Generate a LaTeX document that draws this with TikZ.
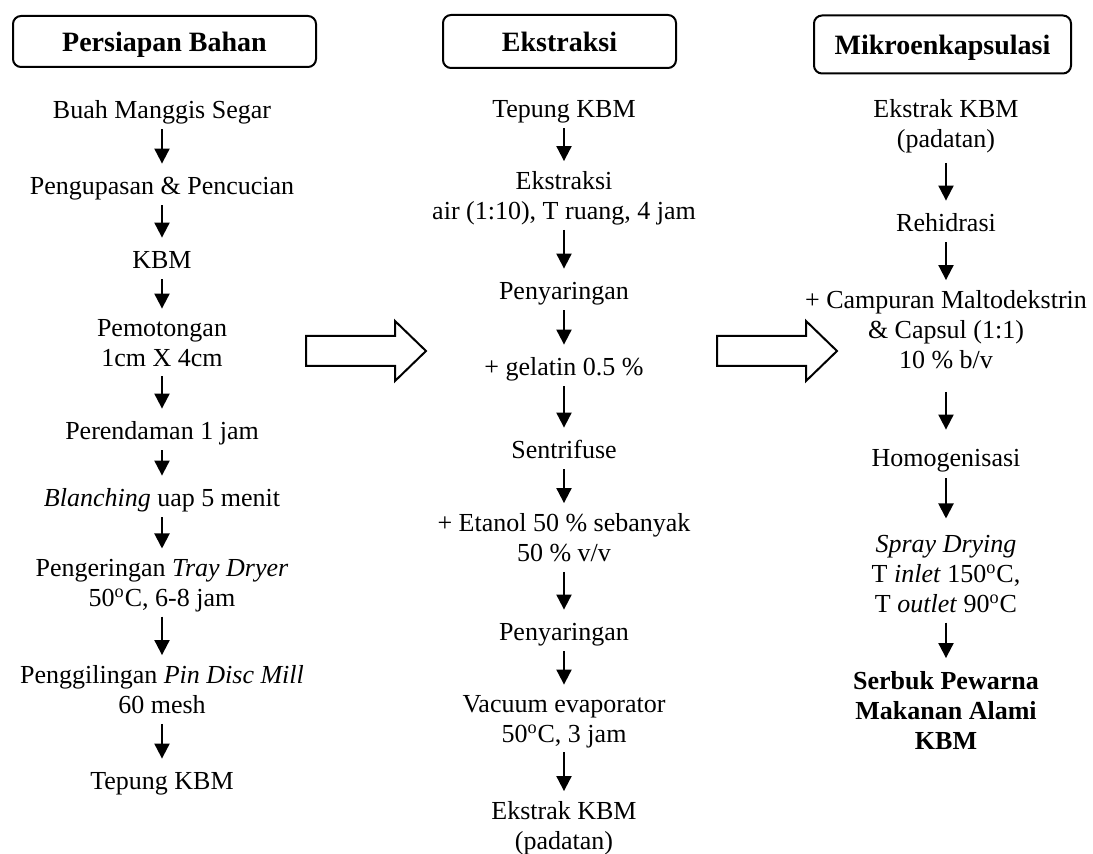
\documentclass[tikz,border=0pt]{standalone}
\usepackage{fontspec}
\setmainfont{Liberation Serif}
\usetikzlibrary{arrows.meta}

\begin{document}
\begin{tikzpicture}[x=0.5pt, y=-0.5pt,
  judul/.style={rectangle, rounded corners=4pt, draw, line width=1pt,
    text height=10.5pt, text depth=0pt, font=\fontsize{14}{16}\selectfont\bfseries},
  lk/.style={align=center, inner sep=0pt, font=\fontsize{13}{15}\selectfont,
    execute at begin node=\strut, execute at end node=\strut},
  tr/.style={-{Triangle[width=7.5pt,length=7.5pt]}, line width=1pt,
    shorten >=5pt, shorten <=0.5pt},
  blok/.style={draw, line width=1pt, fill=white}
]
  \useasboundingbox (0,0) rectangle (1093,854);

  % judul kolom
  \node[judul, minimum width=151.5pt, minimum height=25.5pt] (hbahan) at (164.5,41.5) {Persiapan Bahan};
  \node[judul, minimum width=116.5pt, minimum height=26.5pt] (hekstr) at (559.5,41.5) {Ekstraksi};
  \node[judul, minimum width=128.5pt, minimum height=29pt]   (hmikro) at (942.5,44.5) {Mikroenkapsulasi};

  % persiapan bahan
  \node[lk] (buah)   at (162,113) {Buah Manggis Segar};
  \node[lk] (kupas)  at (162,189) {Pengupasan \& Pencucian};
  \node[lk] (kbm)    at (162,263) {KBM};
  \node[lk] (potong) at (162,347) {Pemotongan\\1cm X 4cm};
  \node[lk] (rendam) at (162,434) {Perendaman 1 jam};
  \node[lk] (blanch) at (162,501) {\textit{Blanching} uap 5 menit};
  \node[lk] (kering) at (162,587) {Pengeringan \textit{Tray Dryer}\\50\textsuperscript{o}C, 6-8 jam};
  \node[lk] (giling) at (162,694) {Penggilingan \textit{Pin Disc Mill}\\60 mesh};
  \node[lk] (tepung) at (162,784) {Tepung KBM};

  % ekstraksi
  \node[lk] (tepungB) at (564,112) {Tepung KBM};
  \node[lk] (ekstr)   at (564,200) {Ekstraksi\\air (1:10), T ruang, 4 jam};
  \node[lk] (saring1) at (564,294) {Penyaringan};
  \node[lk] (gelatin) at (564,370) {+ gelatin 0.5 \%};
  \node[lk] (sentri)  at (564,453) {Sentrifuse};
  \node[lk] (etanol)  at (564,542) {+ Etanol 50 \% sebanyak\\50 \% v/v};
  \node[lk] (saring2) at (564,635) {Penyaringan};
  \node[lk] (vakum)   at (564,723) {Vacuum evaporator\\50\textsuperscript{o}C, 3 jam};
  \node[lk] (ekstrak) at (564,830) {Ekstrak KBM\\(padatan)};

  % mikroenkapsulasi
  \node[lk] (ekstrakB) at (946,128) {Ekstrak KBM\\(padatan)};
  \node[lk] (rehid)    at (946,226) {Rehidrasi};
  \node[lk] (campur)   at (946,334) {+ Campuran Maltodekstrin\\\& Capsul (1:1)\\10 \% b/v};
  \node[lk] (homog)    at (946,461) {Homogenisasi};
  \node[lk] (spray)    at (946,578) {\textit{Spray Drying}\\T \textit{inlet} 150\textsuperscript{o}C,\\T \textit{outlet} 90\textsuperscript{o}C};
  \node[lk, font=\fontsize{13}{15}\selectfont\bfseries] (serbuk) at (946,715) {Serbuk Pewarna\\Makanan Alami\\KBM};

  % panah antar kolom
  \draw[blok] (306,336) -- (395,336) -- (395,321) -- (426,351) -- (395,381) -- (395,366) -- (306,366) -- cycle;
  \draw[blok] (717,336) -- (806,336) -- (806,321) -- (837,351) -- (806,381) -- (806,366) -- (717,366) -- cycle;

  \draw[tr] (buah)   -- (kupas);
  \draw[tr] (kupas)  -- (kbm);
  \draw[tr] (kbm)    -- (potong);
  \draw[tr] (potong) -- (rendam);
  \draw[tr] (rendam) -- (blanch);
  \draw[tr] (blanch) -- (kering);
  \draw[tr] (kering) -- (giling);
  \draw[tr] (giling) -- (tepung);

  \draw[tr] (tepungB) -- (ekstr);
  \draw[tr] (ekstr)   -- (saring1);
  \draw[tr] (saring1) -- (gelatin);
  \draw[tr] (gelatin) -- (sentri);
  \draw[tr] (sentri)  -- (etanol);
  \draw[tr] (etanol)  -- (saring2);
  \draw[tr] (saring2) -- (vakum);
  \draw[tr] (vakum)   -- (ekstrak);

  \draw[tr, shorten <=3pt] (ekstrakB) -- (rehid);
  \draw[tr] (rehid)  -- (campur);
  \draw[tr, shorten <=7pt, shorten >=8pt] (campur) -- (homog);
  \draw[tr, shorten <=1pt, shorten >=8pt] (homog) -- (spray);
  \draw[tr, shorten >=6.5pt] (spray)  -- (serbuk);
\end{tikzpicture}
\end{document}
